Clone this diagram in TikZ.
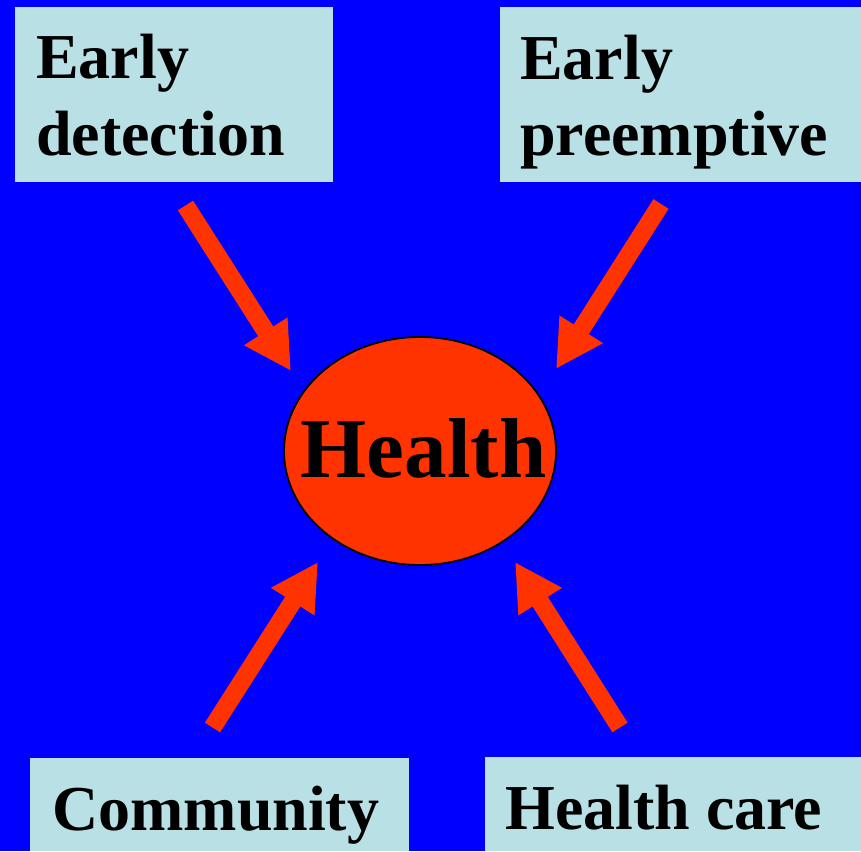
\documentclass[tikz,border=0pt]{standalone}
\usepackage{fontspec}
\setmainfont{Liberation Serif}
\usetikzlibrary{shapes.geometric,arrows.meta}
\definecolor{bgblue}{RGB}{0,0,255}
\definecolor{boxcyan}{RGB}{185,224,228}
\definecolor{hred}{RGB}{255,51,0}
\tikzset{
  box/.style={fill=boxcyan, draw=none, rectangle, inner sep=0pt, anchor=north west},
  txt/.style={inner sep=0pt, anchor=base west, font=\fontsize{64}{77}\selectfont\bfseries},
  hub/.style={ellipse, fill=hred, draw=black, line width=1.8pt, minimum width=272pt, minimum height=228pt, inner sep=0pt},
  hubtxt/.style={inner sep=0pt, font=\fontsize{85}{90}\selectfont\bfseries},
  bigarrow/.style={draw=hred, line width=18pt, -{Triangle[length=47pt,width=48pt]}}
}
\begin{document}
\begin{tikzpicture}[x=1pt,y=-1pt]
\fill[bgblue] (0,0) rectangle (861,851);
\useasboundingbox (0,0) rectangle (861,851);
% boxes
\node[box, minimum width=318pt, minimum height=175pt] (ed) at (15,7) {};
\node[box, minimum width=361pt, minimum height=175pt] (ep) at (500,7) {};
\node[box, minimum width=379pt, minimum height=93pt] (cm) at (30,758) {};
\node[box, minimum width=376pt, minimum height=94pt] (hc) at (485,757) {};
% texts
\node[txt] (ed1) at (36,78) {Early};
\node[txt] (ed2) at (36,155) {detection};
\node[txt] (ep1) at (520,79) {Early};
\node[txt] (ep2) at (520,155) {preemptive};
\node[txt] (cmt) at (52,830) {Community};
\node[txt] (hct) at (505,829) {Health care};
% central ellipse
\node[hub] (health) at (420,451) {};
\node[hubtxt, anchor=base] (healtht) at (423.5,477) {Health};
% arrow ends
\coordinate (a1s) at (185.5,205.5);
\coordinate (a1e) at (291,371);
\coordinate (a2s) at (661,204);
\coordinate (a2e) at (556,369);
\coordinate (a3s) at (212.5,727.5);
\coordinate (a3e) at (318,562);
\coordinate (a4s) at (620,727.5);
\coordinate (a4e) at (515,562);
\draw[bigarrow] (a1s) -- (a1e);
\draw[bigarrow] (a2s) -- (a2e);
\draw[bigarrow] (a3s) -- (a3e);
\draw[bigarrow] (a4s) -- (a4e);
\end{tikzpicture}
\end{document}
